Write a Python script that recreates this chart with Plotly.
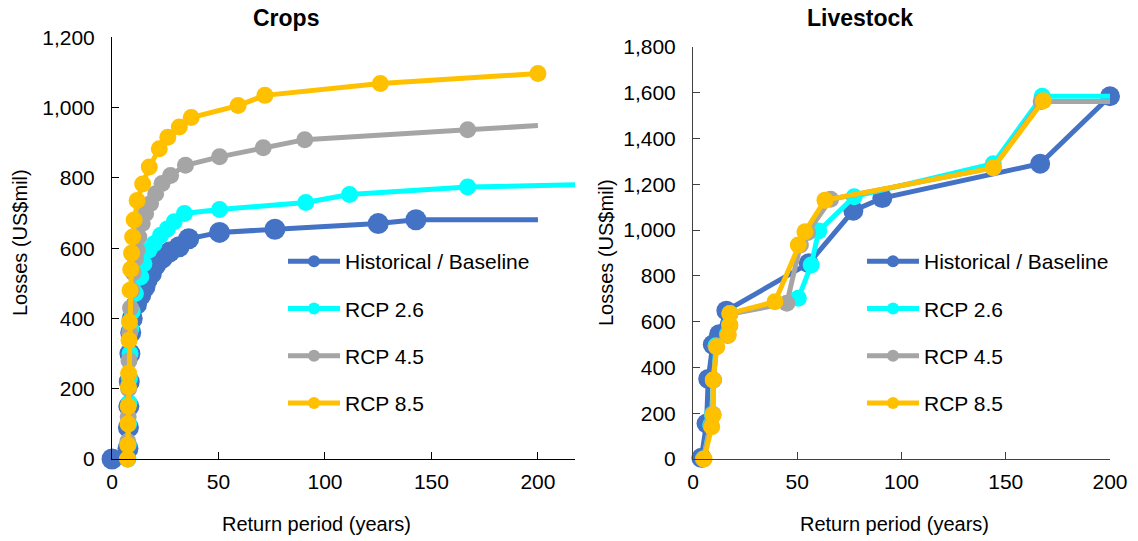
import plotly.graph_objects as go

# ---------------- Data ----------------
series_names = ["Historical / Baseline", "RCP 2.6", "RCP 4.5", "RCP 8.5"]
series_colors = ["#4472C4", "#00FFFF", "#A5A5A5", "#FFC000"]

# Crops: return period (years) vs losses (US$ mil)
crops_hist_x = [0, 7.5, 7.7, 7.9, 8.1, 8.4, 8.8, 9.5, 11.5, 13.5, 15.5, 16.5, 18.5, 20.5, 23.5, 27.0, 31.5, 36.0, 50.5, 76.5, 125.0, 142.7, 200.0]
crops_hist_y = [0, 30, 90, 150, 220, 300, 360, 400, 440, 466, 490, 509, 528, 552, 571, 589, 604, 627, 645, 654, 670, 681, 681]

crops_rcp26_x = [7.5, 7.6, 7.8, 8.0, 8.2, 8.5, 8.8, 9.5, 11.0, 13.5, 15.0, 17.3, 19.8, 22.8, 26.0, 29.2, 34.0, 50.5, 91.0, 111.5, 167.0, 250.0]
crops_rcp26_y = [0, 40, 100, 160, 230, 300, 370, 420, 471, 518, 556, 594, 613, 637, 655, 675, 699, 710, 730, 753, 774, 785]

crops_rcp45_x = [7.3, 7.4, 7.6, 7.8, 8.0, 8.3, 8.7, 9.2, 10.0, 11.0, 11.8, 12.6, 14.2, 15.8, 18.1, 20.5, 23.5, 27.5, 34.5, 50.5, 71.0, 90.5, 167.0, 200.0]
crops_rcp45_y = [0, 50, 120, 200, 280, 360, 430, 480, 530, 570, 594, 632, 670, 699, 727, 755, 784, 807, 836, 860, 886, 909, 937, 949]

crops_rcp85_x = [7.3, 7.4, 7.5, 7.6, 7.7, 7.8, 8.0, 8.2, 8.5, 8.8, 9.2, 9.7, 10.4, 11.8, 14.4, 17.5, 22.2, 26.2, 31.6, 37.2, 59.2, 71.8, 126.0, 200.0]
crops_rcp85_y = [0, 40, 100, 150, 206, 244, 338, 390, 480, 540, 586, 632, 680, 736, 783, 831, 883, 916, 945, 972, 1006, 1035, 1069, 1097]

# Livestock: return period (years) vs losses (US$ mil)
live_hist_x = [4.0, 6.5, 7.3, 9.5, 12.5, 16.0, 55.5, 76.9, 90.8, 166.5, 200.0]
live_hist_y = [5, 155, 350, 500, 545, 648, 855, 1085, 1140, 1290, 1585]

live_rcp26_x = [5.0, 8.5, 9.3, 9.8, 11.0, 16.5, 17.5, 17.7, 50.5, 56.7, 60.3, 77.3, 144.0, 167.5, 201.5]
live_rcp26_y = [0, 150, 195, 345, 495, 545, 585, 636, 702, 848, 996, 1146, 1290, 1585, 1585]

live_rcp45_x = [5.0, 8.7, 9.5, 9.8, 11.2, 16.7, 17.6, 17.7, 45.0, 51.5, 55.0, 66.0, 144.0, 167.0, 201.5]
live_rcp45_y = [0, 145, 195, 345, 490, 540, 582, 633, 680, 935, 990, 1135, 1272, 1562, 1562]

live_rcp85_x = [5.3, 9.0, 9.7, 9.7, 11.4, 16.9, 17.7, 17.7, 39.3, 50.5, 53.7, 63.3, 144.0, 168.0]
live_rcp85_y = [0, 141, 192, 345, 490, 542, 585, 636, 687, 935, 993, 1131, 1272, 1565]

crops_x = [crops_hist_x, crops_rcp26_x, crops_rcp45_x, crops_rcp85_x]
crops_y = [crops_hist_y, crops_rcp26_y, crops_rcp45_y, crops_rcp85_y]
live_x = [live_hist_x, live_rcp26_x, live_rcp45_x, live_rcp85_x]
live_y = [live_hist_y, live_rcp26_y, live_rcp45_y, live_rcp85_y]

# ---------------- Layout helpers ----------------
W, H = 1138, 541
FONT = "Arial, Liberation Sans, sans-serif"


def px(x):
    return x / W


def py(y):
    return 1 - y / H


def marker_sizes(n, size, end_marker):
    """Marker size per point; a line may finish without a marker."""
    sizes = [size] * n
    if not end_marker:
        sizes[-1] = 0
    return sizes


fig = go.Figure()

crops_marker_size = [21, 17, 17, 17]
crops_end_marker = [False, False, False, True]
for i in range(4):
    fig.add_trace(go.Scatter(
        x=crops_x[i], y=crops_y[i], name=series_names[i],
        mode="lines+markers",
        line=dict(color=series_colors[i], width=5),
        marker=dict(color=series_colors[i], opacity=1, line=dict(width=0),
                    size=marker_sizes(len(crops_x[i]), crops_marker_size[i], crops_end_marker[i])),
        xaxis="x", yaxis="y", cliponaxis=False,
        legend="legend", legendgroup="crops%d" % i,
    ))

live_marker_size = [20, 17, 17, 17]
live_end_marker = [True, False, False, True]
for i in range(4):
    fig.add_trace(go.Scatter(
        x=live_x[i], y=live_y[i], name=series_names[i],
        mode="lines+markers",
        line=dict(color=series_colors[i], width=5),
        marker=dict(color=series_colors[i], opacity=1, line=dict(width=0),
                    size=marker_sizes(len(live_x[i]), live_marker_size[i], live_end_marker[i])),
        xaxis="x2", yaxis="y2", cliponaxis=False,
        legend="legend2", legendgroup="live%d" % i,
    ))

axis_common = dict(
    showgrid=False, zeroline=False, showline=True, linewidth=1,
    ticks="inside", ticklen=7, tickwidth=1,
    tickfont=dict(family=FONT, size=21, color="#000000"),
)

legend_common = dict(
    xanchor="left", yanchor="top", font=dict(family=FONT, size=21),
    tracegroupgap=17, itemwidth=52, bgcolor="rgba(0,0,0,0)", itemsizing="constant",
)

fig.update_layout(
    width=W, height=H,
    margin=dict(l=0, r=0, t=0, b=0, autoexpand=False),
    paper_bgcolor="white", plot_bgcolor="white",
    font=dict(family=FONT, color="#000000"),
    xaxis=dict(domain=[px(112), px(575)], range=[0, 217.4], tickvals=[0, 50, 100, 150, 200],
               linecolor="#000000", tickcolor="#000000", ticklabelstandoff=4, anchor="y", **axis_common),
    yaxis=dict(domain=[py(459), py(37.4)], range=[0, 1200], dtick=200, tickformat=",",
               linecolor="#000000", tickcolor="#000000", ticklabelstandoff=12, anchor="x", **axis_common),
    xaxis2=dict(domain=[px(693), px(1110)], range=[0, 200], tickvals=[0, 50, 100, 150, 200],
                linecolor="#404040", tickcolor="#404040", ticklabelstandoff=4, anchor="y2", **axis_common),
    yaxis2=dict(domain=[py(459), py(47)], range=[0, 1800], dtick=200, tickformat=",",
                linecolor="#404040", tickcolor="#404040", ticklabelstandoff=12, anchor="x2", **axis_common),
    legend=dict(x=px(283), y=py(241), **legend_common),
    legend2=dict(x=px(862), y=py(241), **legend_common),
    showlegend=True,
)

annotations = [
    dict(text="<b>Crops</b>", x=px(286), y=py(18), font=dict(size=23)),
    dict(text="<b>Livestock</b>", x=px(860), y=py(18), font=dict(size=23)),
    dict(text="Return period (years)", x=px(316), y=py(524), font=dict(size=20)),
    dict(text="Return period (years)", x=px(894), y=py(524), font=dict(size=20)),
    dict(text="Losses (US$mil)", x=px(20), y=py(243), font=dict(size=20), textangle=-90),
    dict(text="Losses (US$mil)", x=px(606), y=py(253), font=dict(size=20), textangle=-90),
]
for a in annotations:
    a.update(xref="paper", yref="paper", showarrow=False, xanchor="center", yanchor="middle")
    a["font"].update(family=FONT, color="#000000")
fig.update_layout(annotations=annotations)

fig.write_html("out.html")
